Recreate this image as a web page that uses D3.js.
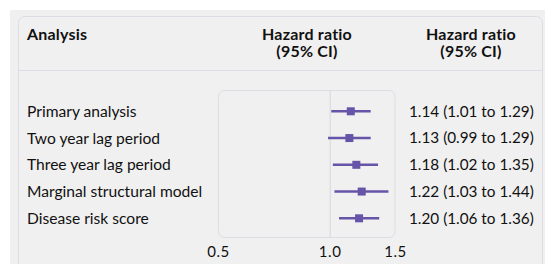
<!DOCTYPE html>
<html>
<head>
<meta charset="utf-8">
<script src="https://cdn.jsdelivr.net/npm/d3@7"></script>
<style>
  body { margin: 0; background: #fff; }
  svg { display: block; font-family: Lato, "Noto Sans", sans-serif; }
</style>
</head>
<body>
<script>
const analyses = ["Primary analysis", "Two year lag period", "Three year lag period", "Marginal structural model", "Disease risk score"];
const hr = [1.14, 1.13, 1.18, 1.22, 1.20];
const lower = [1.01, 0.99, 1.02, 1.03, 1.06];
const upper = [1.29, 1.29, 1.35, 1.44, 1.36];
const ciLabels = ["1.14 (1.01 to 1.29)", "1.13 (0.99 to 1.29)", "1.18 (1.02 to 1.35)", "1.22 (1.03 to 1.44)", "1.20 (1.06 to 1.36)"];
const ticks = [0.5, 1.0, 1.5];

const W = 545, H = 264;
const color = "#6654a8";

const svg = d3.select("body").append("svg")
  .attr("width", W)
  .attr("height", H);

// grey panel and card
svg.append("rect").attr("x", 10).attr("y", 10).attr("width", W - 10).attr("height", H - 10).attr("fill", "#f0f0f0");
svg.append("rect").attr("x", 18.5).attr("y", 16.5).attr("width", 524).attr("height", 300)
  .attr("rx", 6).attr("fill", "#f0f0f0").attr("stroke", "#dcdde5");
svg.append("line").attr("x1", 19).attr("x2", 542).attr("y1", 70.5).attr("y2", 70.5).attr("stroke", "#dcdde5");

// header
const head = svg.append("g").style("font-weight", "bold").style("font-size", "16px")
  .style("letter-spacing", "0.2px").attr("fill", "#111");
head.append("text").attr("x", 27).attr("y", 40).text("Analysis");
head.append("text").attr("x", 307).attr("y", 40).attr("text-anchor", "middle").text("Hazard ratio");
head.append("text").attr("x", 307).attr("y", 57).attr("text-anchor", "middle").text("(95% CI)");
head.append("text").attr("x", 471).attr("y", 40).attr("text-anchor", "middle").text("Hazard ratio");
head.append("text").attr("x", 471).attr("y", 57).attr("text-anchor", "middle").text("(95% CI)");

const x = d3.scaleLog().domain([0.5, 1.5]).range([218, 395]);
const y = d3.scalePoint().domain(analyses).range([111.3, 218.3]);

// plot frame
svg.append("rect").attr("x", 218.5).attr("y", 90.5).attr("width", 176.5).attr("height", 147)
  .attr("rx", 6).attr("fill", "#f0f0f0").attr("stroke", "#dcdde5");
svg.append("line").attr("x1", x(1) + 0.5).attr("x2", x(1) + 0.5).attr("y1", 91).attr("y2", 237)
  .attr("stroke", "#d6d7df");

// axis labels
const axis = d3.axisBottom(x).tickValues(ticks).tickFormat(d3.format(".1f")).tickSize(0).tickPadding(0);
const ax = svg.append("g").attr("transform", "translate(0,243)").call(axis);
ax.select(".domain").remove();
ax.selectAll("text").attr("font-size", "15px").attr("fill", "#111").attr("font-family", "Lato, sans-serif")
  .attr("dy", "0.9em").style("letter-spacing", "0.6px");

const rows = svg.selectAll(".row").data(analyses).enter().append("g").attr("class", "row");

rows.append("text").attr("x", 27).attr("y", d => y(d)).attr("dy", "0.35em")
  .attr("font-size", "15.6px").attr("fill", "#111").text(d => d);

rows.append("line")
  .attr("x1", (d, i) => x(lower[i])).attr("x2", (d, i) => x(upper[i]))
  .attr("y1", d => y(d)).attr("y2", d => y(d))
  .attr("stroke", color).attr("stroke-width", 2.6);

rows.append("rect")
  .attr("x", (d, i) => x(hr[i]) - 4).attr("y", d => y(d) - 4)
  .attr("width", 8).attr("height", 8).attr("fill", color);

rows.append("text").attr("x", 409).attr("y", d => y(d)).attr("dy", "0.35em")
  .attr("font-size", "15.3px").attr("fill", "#111").text((d, i) => ciLabels[i]);
</script>
</body>
</html>
